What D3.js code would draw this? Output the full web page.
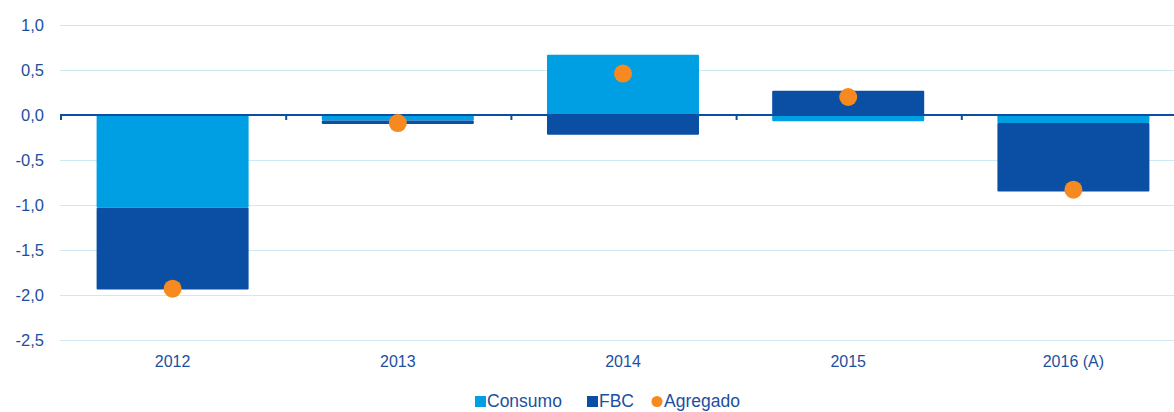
<!DOCTYPE html>
<html>
<head>
<meta charset="utf-8">
<script src="https://cdn.jsdelivr.net/npm/d3@7"></script>
<style>
  body { margin: 0; background: #fff; }
  svg { display: block; font-family: "Liberation Sans", Arial, sans-serif; }
</style>
</head>
<body>
<div id="container"></div>
<script>
/* CONSTANTS AND GLOBALS */
const width = 1174,
  height = 412,
  margin = { top: 25, bottom: 72, left: 60, right: -12 };

/* DATA */
const years = ["2012", "2013", "2014", "2015", "2016 (A)"];
const consumo = [-1.03, -0.06, 0.67, -0.07, -0.09];
const fbc = [-0.91, -0.04, -0.22, 0.27, -0.76];
const agregado = [-1.93, -0.09, 0.46, 0.20, -0.83];
const yTicks = [1.0, 0.5, 0.0, -0.5, -1.0, -1.5, -2.0, -2.5];

const colors = { consumo: "#009fe3", fbc: "#0a4fa3", agregado: "#f6891f" };
const textColor = "#1d4f9f";

const rows = years.map((y, i) => ({ year: y, consumo: consumo[i], fbc: fbc[i], agregado: agregado[i] }));

// SCALES
// -2.5 sits at y=340, 1.0 at y=25
const yScale = d3.scaleLinear()
  .domain([-2.5, 1.0])
  .range([340, margin.top]);

const xScale = d3.scaleBand()
  .domain(years)
  .range([margin.left, width - margin.right])
  .paddingInner(0.325)
  .paddingOuter(0.1625);

const stack = d3.stack()
  .keys(["consumo", "fbc"])
  .offset(d3.stackOffsetDiverging);
const series = stack(rows);

// CREATE SVG ELEMENT
const svg = d3.select("#container")
  .append("svg")
  .attr("width", width)
  .attr("height", height);

// GRIDLINES
svg.append("g")
  .selectAll("line")
  .data(yTicks.filter(d => d !== 0))
  .join("line")
  .attr("x1", margin.left)
  .attr("x2", width)
  .attr("y1", d => Math.round(yScale(d)) + 0.5)
  .attr("y2", d => Math.round(yScale(d)) + 0.5)
  .attr("stroke", "#cde9f6")
  .attr("stroke-width", 1.2);

// Y LABELS
svg.append("g")
  .selectAll("text")
  .data(yTicks)
  .join("text")
  .attr("x", 44)
  .attr("y", d => yScale(d))
  .attr("dy", "0.36em")
  .attr("text-anchor", "end")
  .attr("fill", textColor)
  .style("font-size", "16.5px")
  .text(d => d3.format(".1f")(d).replace(".", ",").replace("−", "-"));

// BARS
svg.append("g")
  .selectAll("g")
  .data(series)
  .join("g")
  .attr("fill", d => colors[d.key])
  .selectAll("rect")
  .data(d => d)
  .join("rect")
  .attr("x", d => xScale(d.data.year))
  .attr("width", xScale.bandwidth())
  .attr("y", d => yScale(Math.max(d[0], d[1])))
  .attr("height", d => Math.abs(yScale(d[0]) - yScale(d[1])))
  .attr("rx", 1);

// ZERO LINE + TICKS
const y0 = yScale(0);
svg.append("line")
  .attr("x1", margin.left)
  .attr("x2", width)
  .attr("y1", y0)
  .attr("y2", y0)
  .attr("stroke", colors.fbc)
  .attr("stroke-width", 2);

const boundaries = years.map(y => xScale(y) - xScale.step() * xScale.paddingInner() / 2);
svg.append("g")
  .selectAll("line")
  .data(boundaries)
  .join("line")
  .attr("x1", d => d + 1)
  .attr("x2", d => d + 1)
  .attr("y1", y0)
  .attr("y2", y0 + 5)
  .attr("stroke", colors.fbc)
  .attr("stroke-width", 2);

// DOTS
svg.append("g")
  .selectAll("circle")
  .data(rows)
  .join("circle")
  .attr("cx", d => xScale(d.year) + xScale.bandwidth() / 2)
  .attr("cy", d => yScale(d.agregado))
  .attr("r", 9)
  .attr("fill", colors.agregado);

// X LABELS
svg.append("g")
  .selectAll("text")
  .data(years)
  .join("text")
  .attr("x", d => xScale(d) + xScale.bandwidth() / 2)
  .attr("y", 367)
  .attr("text-anchor", "middle")
  .attr("fill", textColor)
  .style("font-size", "16px")
  .text(d => d);

// LEGEND
const legend = [
  { label: "Consumo", color: colors.consumo, shape: "rect", x: 475 },
  { label: "FBC", color: colors.fbc, shape: "rect", x: 587 },
  { label: "Agregado", color: colors.agregado, shape: "circle", x: 652 }
];
const lg = svg.append("g");
legend.forEach(l => {
  if (l.shape === "rect") {
    lg.append("rect").attr("x", l.x).attr("y", 396).attr("width", 11).attr("height", 11).attr("fill", l.color);
  } else {
    lg.append("circle").attr("cx", l.x + 5).attr("cy", 401.5).attr("r", 5.5).attr("fill", l.color);
  }
  lg.append("text")
    .attr("x", l.x + 12)
    .attr("y", 407)
    .attr("fill", textColor)
    .style("font-size", "17.5px")
    .text(l.label);
});
</script>
</body>
</html>
